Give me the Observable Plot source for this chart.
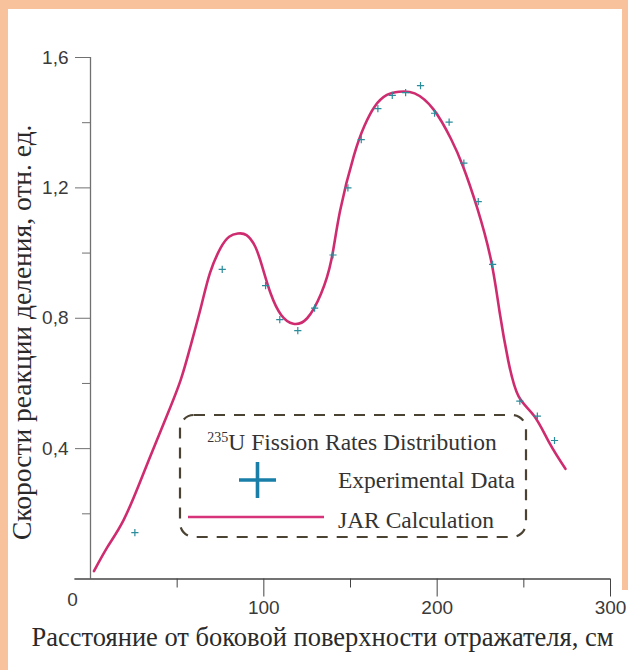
<!DOCTYPE html>
<html>
<head>
<meta charset="utf-8">
<script src="https://cdn.jsdelivr.net/npm/d3@7"></script>
<script src="https://cdn.jsdelivr.net/npm/@observablehq/plot@0.6"></script>
<style>
  html, body { margin: 0; padding: 0; background: #ffffff; }
  #chart { width: 628px; height: 670px; }
</style>
</head>
<body>
<div id="chart"></div>
<script>
// Experimental data (crosses)
const expX = [25.6, 76.0, 101.0, 109.2, 119.6, 129.3, 139.9, 148.5, 156.2, 165.8, 174.1, 181.8, 190.4, 198.5, 206.9, 215.4, 223.7, 232.0, 247.7, 257.8, 267.7];
const expY = [0.142, 0.950, 0.900, 0.796, 0.762, 0.831, 0.994, 1.200, 1.348, 1.443, 1.484, 1.492, 1.514, 1.429, 1.402, 1.276, 1.158, 0.965, 0.546, 0.500, 0.425];

// JAR calculation curve
const calcX = [2, 10, 19, 28, 34, 44, 52, 58, 64, 69, 75, 80, 85, 90, 95, 99, 104, 110, 117, 125, 133, 139, 144, 152, 158, 164, 171, 178, 187, 198, 208, 215, 223, 231, 236, 241, 247, 256, 265, 274];
const calcY = [0.024, 0.10, 0.18, 0.29, 0.37, 0.50, 0.61, 0.72, 0.84, 0.94, 1.015, 1.05, 1.06, 1.055, 1.02, 0.96, 0.875, 0.81, 0.783, 0.80, 0.875, 0.98, 1.13, 1.30, 1.39, 1.45, 1.485, 1.495, 1.49, 1.44, 1.35, 1.265, 1.14, 0.98, 0.82, 0.67, 0.56, 0.50, 0.415, 0.338];

// Ticks
const xMajor = [100, 200, 300];
const xMinor = [50, 150, 250];
const yMajor = [0.4, 0.8, 1.2, 1.6];
const yMinor = [0.2, 0.6, 1.0, 1.4];

const xTitle = "Расстояние от боковой поверхности отражателя, см";
const yTitle = "Скорости реакции деления, отн. ед.";
const legendTitle = "U Fission Rates Distribution";
const legendSup = "235";
const legendExp = "Experimental Data";
const legendCalc = "JAR Calculation";

const expData = expX.map((x, i) => ({x, y: expY[i]}));
const calcData = calcX.map((x, i) => ({x, y: calcY[i]}));

const crossSymbol = {
  draw(ctx, size) {
    const r = Math.sqrt(size / Math.PI);
    ctx.moveTo(-r, 0); ctx.lineTo(r, 0);
    ctx.moveTo(0, -r); ctx.lineTo(0, r);
  }
};

const axisColor = "#707070";
const tickText = "#3a3a3a";
const sans = "'Liberation Sans', Arial, sans-serif";
const serif = "'Liberation Serif', 'Times New Roman', serif";

const chart = Plot.plot({
  width: 628,
  height: 670,
  marginLeft: 90,
  marginRight: 18,
  marginTop: 57,
  marginBottom: 91.5,
  x: {domain: [0, 300]},
  y: {domain: [0, 1.6]},
  style: {background: "transparent", overflow: "visible"},
  marks: [
    Plot.ruleX([0], {y1: 0, y2: 1.6, stroke: axisColor, strokeWidth: 1.3}),
    Plot.ruleY([0], {x1: -9, x2: 300, stroke: "#444", strokeWidth: 1.3}),
    Plot.axisY(yMajor, {tickSize: 15, tickPadding: 7, stroke: axisColor, fill: tickText, fontSize: 19, fontFamily: sans, tickFormat: d => d.toFixed(1).replace(".", ","), label: null}),
    Plot.axisY(yMinor, {tickSize: 8, stroke: axisColor, text: null, label: null}),
    Plot.axisX(xMajor, {tickSize: 18, tickPadding: 3, stroke: "#444", fill: tickText, fontSize: 19, fontFamily: sans, tickFormat: d => String(d), label: null}),
    Plot.axisX(xMinor, {tickSize: 9, stroke: "#444", text: null, label: null}),
    Plot.text([0], {x: 0, y: 0, text: d => String(d), dx: -18, dy: 21, fontSize: 19, fontFamily: sans, fill: tickText}),
    Plot.line(calcData, {x: "x", y: "y", curve: "natural", stroke: "#cf2c70", strokeWidth: 2.6}),
    Plot.dot(expData, {x: "x", y: "y", symbol: crossSymbol, r: 3.6, stroke: "#2b8c9c", strokeWidth: 1.2, fill: "none"}),
    Plot.text([yTitle], {frameAnchor: "left", rotate: -90, dx: -68, dy: 14, fontSize: 27.5, fontFamily: serif, fill: "#2a2a2a", textAnchor: "middle"}),
    Plot.text([xTitle], {frameAnchor: "bottom", dx: -28, dy: 67, fontSize: 26.5, fontFamily: serif, fill: "#2a2a2a"})
  ]
});

document.getElementById("chart").appendChild(chart);

// Frame (scanned page border) and legend
const svg = d3.select(chart);
const bg = svg.insert("g", ":first-child");
bg.append("rect").attr("x", 0).attr("y", 0).attr("width", 628).attr("height", 670).attr("fill", "#f8c39c");
bg.append("rect").attr("x", 8).attr("y", 9).attr("width", 614).attr("height", 661).attr("fill", "#ffffff");
bg.append("rect").attr("x", 622).attr("y", 590).attr("width", 6).attr("height", 80).attr("fill", "#ffffff");

const lg = svg.append("g");
lg.append("rect")
  .attr("x", 180).attr("y", 415).attr("width", 346).attr("height", 122)
  .attr("rx", 14).attr("ry", 14)
  .attr("fill", "none").attr("stroke", "#4a4232").attr("stroke-width", 2.2)
  .attr("stroke-dasharray", "11 9");
const t = lg.append("text").attr("x", 352).attr("y", 450).attr("text-anchor", "middle")
  .attr("font-family", serif).attr("font-size", 23.5).attr("fill", "#333");
t.append("tspan").attr("font-size", 14).attr("dy", -8).text(legendSup);
t.append("tspan").attr("dy", 8).text(legendTitle);
lg.append("path").attr("d", "M239,480H276M257.5,462V498").attr("stroke", "#1a7fa8").attr("stroke-width", 3.6).attr("fill", "none");
lg.append("text").attr("x", 338).attr("y", 488).attr("text-anchor", "start").attr("font-family", serif).attr("font-size", 23.5).attr("fill", "#333").text(legendExp);
lg.append("path").attr("d", "M188,517H324").attr("stroke", "#d6337a").attr("stroke-width", 2.6);
lg.append("text").attr("x", 338).attr("y", 528).attr("text-anchor", "start").attr("font-family", serif).attr("font-size", 23.5).attr("fill", "#333").text(legendCalc);
</script>
</body>
</html>
